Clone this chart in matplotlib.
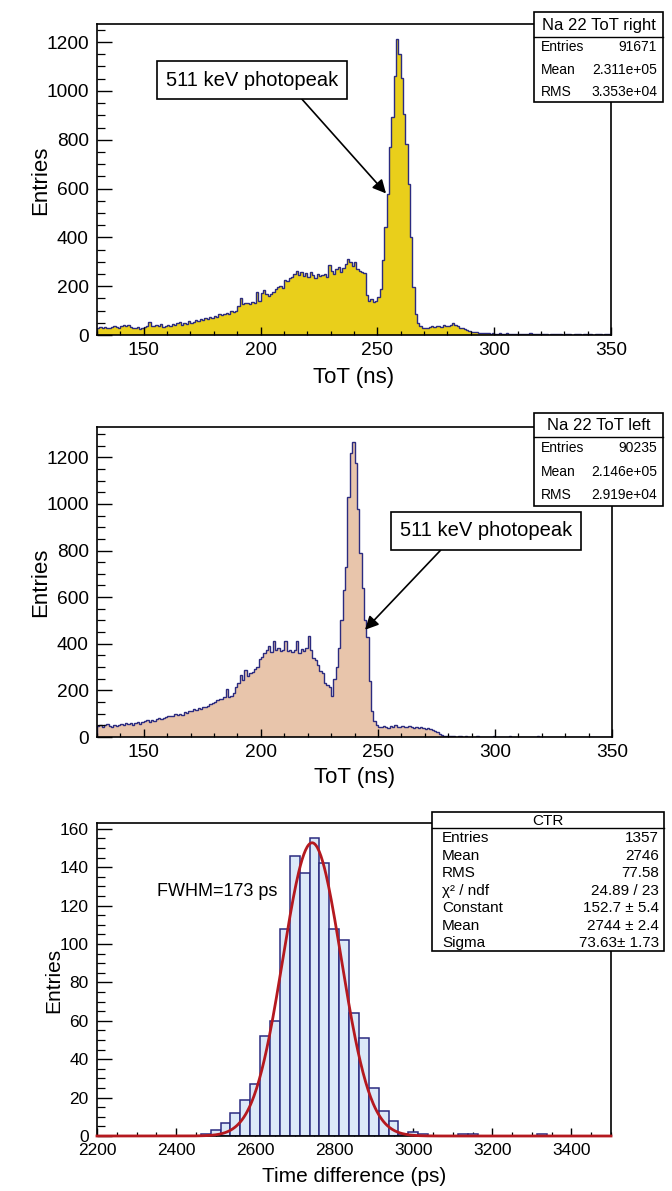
import numpy as np
import matplotlib
matplotlib.use("Agg")
import matplotlib.pyplot as plt
from matplotlib.patches import Rectangle
from matplotlib.lines import Line2D
from matplotlib.transforms import Affine2D
from matplotlib.ticker import MultipleLocator

plt.rcParams['font.family'] = ['Liberation Sans', 'DejaVu Sans']

# ---------------- data ----------------
tot_first_bin = 130   # ns, 1 ns bins
tot_right_counts = [
    28, 31, 27, 33, 30, 29, 34, 36, 31, 27,
    35, 40, 38, 42, 33, 29, 27, 31, 25, 30,
    33, 36, 52, 38, 35, 40, 36, 44, 34, 38,
    41, 36, 45, 40, 48, 54, 39, 50, 46, 58,
    51, 55, 60, 57, 65, 62, 68, 66, 72, 70,
    78, 75, 85, 80, 88, 92, 84, 100, 95, 98,
    118, 150, 127, 130, 133, 128, 135, 132, 177, 140,
    172, 183, 166, 160, 170, 176, 190, 195, 200, 194,
    226, 220, 235, 238, 250, 262, 245, 258, 240, 252,
    236, 258, 245, 232, 248, 240, 246, 250, 238, 286,
    262, 250, 270, 278, 258, 276, 290, 313, 300, 282,
    298, 270, 262, 258, 252, 163, 140, 148, 135, 140,
    156, 190, 306, 442, 578, 769, 891, 1061, 1211, 1150,
    1054, 905, 782, 619, 401, 197, 88, 48, 35, 30,
    30, 27, 32, 35, 33, 38, 36, 34, 40, 37,
    35, 42, 48, 40, 36, 30, 28, 24, 20, 17,
    14, 12, 11, 9, 10, 8, 7, 9, 6, 8,
    6, 5, 7, 4, 6, 8, 5, 4, 6, 3,
    5, 4, 6, 3, 5, 7, 4, 3, 5, 4,
    3, 6, 4, 2, 5, 3, 4, 6, 3, 2,
    4, 3, 5, 2, 4, 6, 3, 2, 4, 3,
    5, 3, 2, 4, 3, 6, 2, 3, 4, 5,
]
tot_left_counts = [
    48, 52, 45, 50, 55, 47, 42, 51, 49, 53,
    55, 50, 60, 54, 62, 52, 58, 64, 57, 66,
    68, 72, 66, 75, 70, 78, 82, 76, 80, 86,
    88, 92, 90, 97, 95, 100, 96, 108, 104, 110,
    112, 118, 115, 124, 120, 130, 128, 135, 140, 145,
    150, 158, 165, 162, 170, 208, 172, 178, 190, 215,
    232, 268, 245, 288, 262, 275, 280, 292, 300, 335,
    345, 360, 372, 390, 365, 410, 375, 380, 370, 372,
    410, 368, 372, 365, 375, 410, 360, 378, 370, 380,
    432, 372, 340, 330, 310, 285, 275, 232, 225, 215,
    175, 250, 300, 380, 500, 630, 730, 1030, 1217, 1266,
    1174, 980, 790, 640, 500, 430, 240, 110, 68, 52,
    45, 42, 48, 44, 40, 46, 43, 50, 45, 42,
    48, 44, 41, 46, 43, 40, 45, 38, 42, 40,
    36, 38, 33, 28, 24, 20, 12, 8, 6, 5,
    4, 3, 5, 2, 4, 3, 2, 3, 1, 2,
    2, 1, 3, 2, 1, 2, 0, 2, 1, 3,
    1, 2, 0, 1, 2, 1, 3, 1, 0, 2,
    1, 0, 2, 1, 1, 0, 2, 1, 3, 1,
    0, 1, 2, 0, 1, 1, 0, 2, 1, 0,
    1, 2, 0, 1, 0, 1, 2, 0, 1, 1,
    0, 1, 1, 0, 2, 0, 1, 0, 1, 1,
]
ctr_bin_width = 25  # ps
ctr_centers = [2475, 2500, 2525, 2550, 2575, 2600, 2625, 2650, 2675, 2700,
               2725, 2750, 2775, 2800, 2825, 2850, 2875, 2900, 2925, 2950,
               2975, 3000, 3025, 3125, 3150, 3325]
ctr_counts = [1, 3, 7, 12, 19, 27, 52, 60, 108, 146,
              137, 155, 142, 108, 102, 64, 51, 25, 13, 8,
              1, 2, 1, 1, 1, 1]
fit_constant, fit_mean, fit_sigma = 152.7, 2744.0, 73.63

stats_right = [("Entries", "91671"), ("Mean", "2.311e+05"), ("RMS", "3.353e+04")]
stats_left = [("Entries", "90235"), ("Mean", "2.146e+05"), ("RMS", "2.919e+04")]
stats_ctr = [("Entries", "1357"), ("Mean", "2746"), ("RMS", "77.58"),
             ("χ² / ndf", "24.89 / 23"), ("Constant", "152.7 ± 5.4"),
             ("Mean", "2744 ± 2.4"), ("Sigma", "73.63± 1.73")]

# ---------------- figure ----------------
W, H = 672, 1191
fig = plt.figure(figsize=(W / 100, H / 100), dpi=100)
PIX = Affine2D().scale(1 / W, -1 / H).translate(0, 1) + fig.transFigure

NAVY = '#2b2b80'
FRAME_LW = 1.2


def make_axes(x0, y0, x1, y1):
    ax = fig.add_axes([x0 / W, 1 - y1 / H, (x1 - x0) / W, (y1 - y0) / H])
    for s in ax.spines.values():
        s.set_linewidth(FRAME_LW)
    ax.tick_params(which='both', direction='in', top=False, right=False)
    return ax


def style_ticks(ax, fs, xmaj_len=6, ymaj_len=11):
    ax.tick_params(axis='x', which='major', length=xmaj_len, width=1.0, labelsize=fs, pad=5)
    ax.tick_params(axis='x', which='minor', length=xmaj_len / 2, width=0.9)
    ax.tick_params(axis='y', which='major', length=ymaj_len, width=1.0, labelsize=fs, pad=6)
    ax.tick_params(axis='y', which='minor', length=ymaj_len / 2, width=0.9)


def stat_box(x0, y0, x1, y1, sep, title, rows, row_ys, fs_title, fs_row, lpad, rpad):
    fig.add_artist(Rectangle((x0, y0), x1 - x0, y1 - y0, transform=PIX,
                             facecolor='white', edgecolor='black', lw=1.2, zorder=10))
    fig.add_artist(Line2D([x0, x1], [sep, sep], transform=PIX, color='black', lw=1.0, zorder=11))
    fig.text((x0 + x1) / 2, (y0 + sep) / 2 + 1, title, transform=PIX, ha='center', va='center',
             fontsize=fs_title, zorder=12)
    for (lab, val), yy in zip(rows, row_ys):
        fig.text(x0 + lpad, yy, lab, transform=PIX, ha='left', va='center', fontsize=fs_row, zorder=12)
        fig.text(x1 - rpad, yy, val, transform=PIX, ha='right', va='center', fontsize=fs_row, zorder=12)


def label_axes(ax, xlabel, xl_y, yl_x, yl_y, fs):
    ax.set_xlabel(xlabel, fontsize=fs)
    ax.set_ylabel("Entries", fontsize=fs)
    ax.xaxis.set_label_coords(0, 0, transform=PIX)
    ax.xaxis.label.set_position(((ax.get_position().x0 + ax.get_position().x1) / 2 * W, xl_y))
    ax.xaxis.label.set_transform(PIX)
    ax.xaxis.label.set_va('center')
    ax.yaxis.label.set_transform(PIX)
    ax.yaxis.label.set_position((yl_x, yl_y))
    ax.yaxis.label.set_va('center')


tot_edges_r = np.arange(len(tot_right_counts) + 1) + tot_first_bin
tot_edges_l = np.arange(len(tot_left_counts) + 1) + tot_first_bin

# ---- top panel: ToT right ----
ax1 = make_axes(97, 24, 611, 335)
ax1.stairs(tot_right_counts, tot_edges_r, fill=True, color='#E9CF1B', lw=0)
ax1.stairs(tot_right_counts, tot_edges_r, color=NAVY, lw=1.0)
ax1.set_xlim(130, 350)
ax1.set_ylim(0, 1274)
ax1.xaxis.set_major_locator(MultipleLocator(50))
ax1.xaxis.set_minor_locator(MultipleLocator(10))
ax1.yaxis.set_major_locator(MultipleLocator(200))
ax1.yaxis.set_minor_locator(MultipleLocator(50))
style_ticks(ax1, 13.8)
label_axes(ax1, "ToT (ns)", 377, 28, 180, 16)
ax1.annotate("511 keV photopeak", xy=(253.7, 580), xycoords='data',
             xytext=(252, 80), textcoords=PIX, ha='center', va='center', fontsize=14.5,
             bbox=dict(boxstyle='square,pad=0.45', fc='white', ec='black', lw=1.2),
             arrowprops=dict(arrowstyle='-|>', color='black', lw=1.2, mutation_scale=20,
                             shrinkA=0, shrinkB=0, relpos=(0.74, 0.0)))
stat_box(534, 12, 663, 102, 37, "Na 22 ToT right", stats_right, [47, 70, 92], 12, 10, 7, 6)

# ---- middle panel: ToT left ----
ax2 = make_axes(97, 427, 612, 737)
ax2.stairs(tot_left_counts, tot_edges_l, fill=True, color='#E8C5AB', lw=0)
ax2.stairs(tot_left_counts, tot_edges_l, color=NAVY, lw=1.0)
ax2.set_xlim(130, 350)
ax2.set_ylim(0, 1330)
ax2.xaxis.set_major_locator(MultipleLocator(50))
ax2.xaxis.set_minor_locator(MultipleLocator(10))
ax2.yaxis.set_major_locator(MultipleLocator(200))
ax2.yaxis.set_minor_locator(MultipleLocator(50))
style_ticks(ax2, 13.8)
label_axes(ax2, "ToT (ns)", 778, 28, 582, 16)
ax2.annotate("511 keV photopeak", xy=(244.5, 460), xycoords='data',
             xytext=(486, 531), textcoords=PIX, ha='center', va='center', fontsize=14.5,
             bbox=dict(boxstyle='square,pad=0.45', fc='white', ec='black', lw=1.2),
             arrowprops=dict(arrowstyle='-|>', color='black', lw=1.2, mutation_scale=20,
                             shrinkA=0, shrinkB=0, relpos=(0.29, 0.0)))
stat_box(534, 413, 663, 506, 437, "Na 22 ToT left", stats_left, [448, 472, 495], 12, 10, 7, 6)

# ---- bottom panel: CTR ----
ax3 = make_axes(97, 823, 611, 1136)
ax3.bar(ctr_centers, ctr_counts, width=ctr_bin_width, color='#DCE9F8',
        edgecolor=NAVY, lw=1.1, zorder=2)
xs = np.linspace(2200, 3500, 600)
ax3.plot(xs, fit_constant * np.exp(-0.5 * ((xs - fit_mean) / fit_sigma) ** 2),
         color='#B5191F', lw=2.0, zorder=3, clip_on=False)
ax3.set_xlim(2200, 3500)
ax3.set_ylim(0, 163)
ax3.xaxis.set_major_locator(MultipleLocator(200))
ax3.xaxis.set_minor_locator(MultipleLocator(50))
ax3.yaxis.set_major_locator(MultipleLocator(20))
ax3.yaxis.set_minor_locator(MultipleLocator(5))
style_ticks(ax3, 12.5)
label_axes(ax3, "Time difference (ps)", 1177, 28, 980, 15)
ax3.text(157, 891, "FWHM=173 ps", transform=PIX, ha='left', va='center', fontsize=13)
stat_box(432, 812, 664, 951, 828, "CTR", stats_ctr,
         [838, 856, 873, 891, 908, 926, 943], 11, 11, 10, 5)

fig.savefig("out.png", dpi=100)
